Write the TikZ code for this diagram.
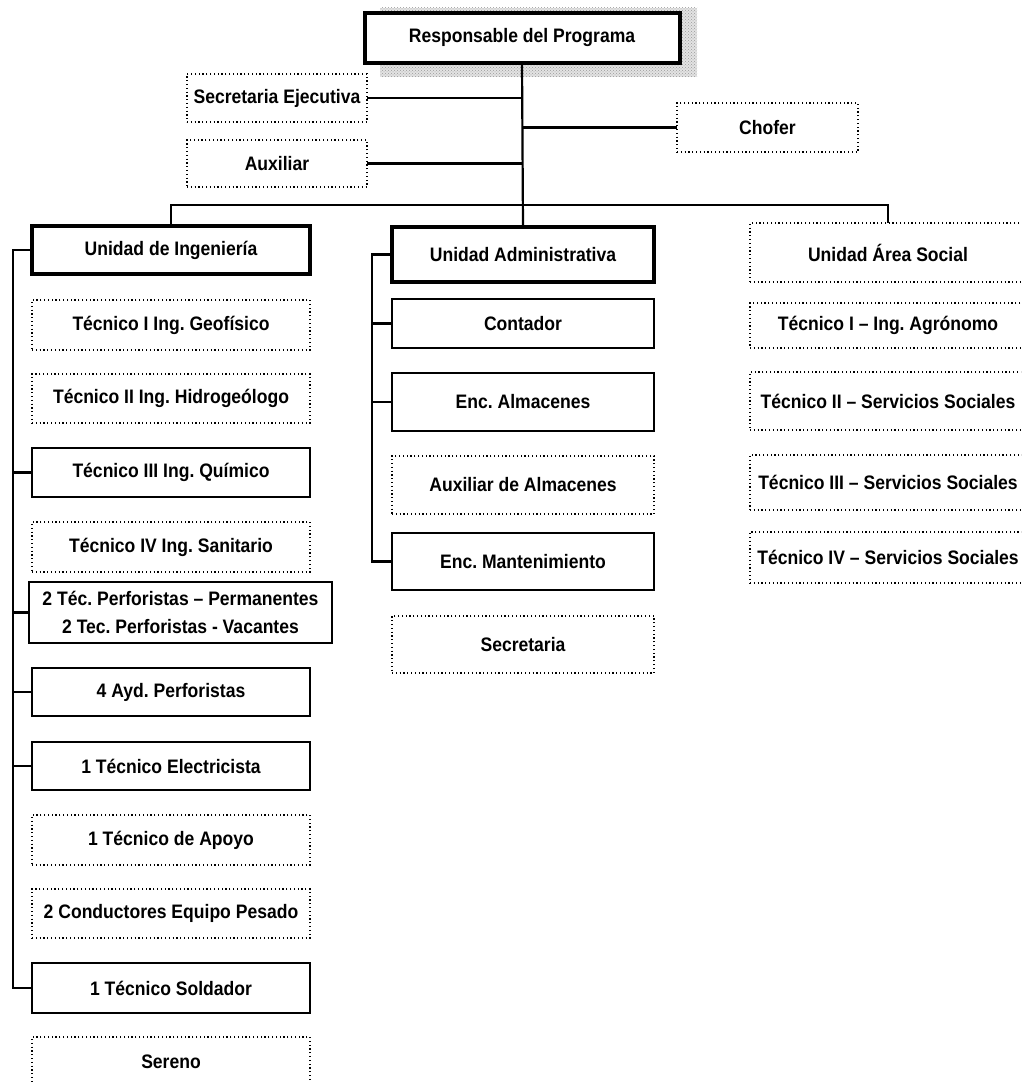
\documentclass[tikz,border=0pt]{standalone}
\usepackage{fontspec}
\setmainfont{Liberation Sans}[FakeStretch=0.9]
\usetikzlibrary{patterns}
\frenchspacing
\begin{document}
\begin{tikzpicture}[x=1pt,y=-1pt,
  every node/.style={inner sep=0pt, outer sep=0pt, align=center,
    font=\bfseries\fontsize{19.5}{28}\selectfont},
  solidbox/.style={draw, line width=2.4pt, fill=white},
  headbox/.style={draw, line width=4pt, fill=white},
  dotbox/.style={draw, line width=1.4pt, dash pattern=on 1.2pt off 2.6pt},
  link/.style={line width=2.2pt}]
\useasboundingbox (0,0) rectangle (1021,1083);
\fill[white] (0,0) rectangle (1021,1083);
\clip (0,0) rectangle (1021,1083);

% drop shadow of the top box
\fill[gray!22] (380,8) rectangle (697,77);
\fill[pattern=crosshatch dots, pattern color=gray!80] (380,8) rectangle (697,77);

% top of the chart
\node[headbox, minimum width=315pt, minimum height=50pt] (resp) at (522,38) {Responsable del Programa};
\node[dotbox, minimum width=180pt, minimum height=48pt] (secej) at (277,98) {Secretaria Ejecutiva};
\node[dotbox, minimum width=180pt, minimum height=47pt] (aux) at (277,163.5) {Auxiliar};
\node[dotbox, minimum width=181pt, minimum height=49pt] (chofer) at (767.5,127.5) {Chofer};

% engineering unit
\node[headbox, minimum width=278pt, minimum height=48pt] (ing) at (171,250) {Unidad de Ingeniería};
\node[dotbox, minimum width=278pt, minimum height=50pt] (geo) at (171,325) {Técnico I Ing. Geofísico};
\node[dotbox, minimum width=278pt, minimum height=49pt] (hidro) at (171,398.5) {Técnico II Ing. Hidrogeólogo};
\node[solidbox, minimum width=278pt, minimum height=49pt] (quim) at (171,472.5) {Técnico III Ing. Químico};
\node[dotbox, minimum width=278pt, minimum height=50pt] (sanit) at (171,547) {Técnico IV Ing. Sanitario};
\node[solidbox, minimum width=303pt, minimum height=61pt] (perf) at (180.5,612.5) {2 Téc. Perforistas – Permanentes\\2 Tec. Perforistas - Vacantes};
\node[solidbox, minimum width=278pt, minimum height=48pt] (ayd) at (171,692) {4 Ayd. Perforistas};
\node[solidbox, minimum width=278pt, minimum height=48pt] (elec) at (171,766) {1 Técnico Electricista};
\node[dotbox, minimum width=278pt, minimum height=50pt] (apoyo) at (171,840) {1 Técnico de Apoyo};
\node[dotbox, minimum width=278pt, minimum height=49pt] (cond) at (171,913.5) {2 Conductores Equipo Pesado};
\node[solidbox, minimum width=278pt, minimum height=50pt] (sold) at (171,988) {1 Técnico Soldador};
\node[dotbox, minimum width=278pt, minimum height=50pt] (sereno) at (171,1062) {Sereno};

% administrative unit
\node[headbox, minimum width=262pt, minimum height=55pt] (admin) at (523,254.5) {Unidad Administrativa};
\node[solidbox, minimum width=262pt, minimum height=49pt] (cont) at (523,323.5) {Contador};
\node[solidbox, minimum width=262pt, minimum height=58pt] (alm) at (523,402) {Enc. Almacenes};
\node[dotbox, minimum width=262pt, minimum height=58pt] (auxalm) at (523,485) {Auxiliar de Almacenes};
\node[solidbox, minimum width=262pt, minimum height=57pt] (mant) at (523,561.5) {Enc. Mantenimiento};
\node[dotbox, minimum width=262pt, minimum height=57pt] (secr) at (523,644.5) {Secretaria};

% social area unit
\node[dotbox, minimum width=276pt, minimum height=59pt] (social) at (888,252.5) {Unidad Área Social};
\node[dotbox, minimum width=276pt, minimum height=45pt] (agr) at (888,325.5) {Técnico I – Ing. Agrónomo};
\node[dotbox, minimum width=276pt, minimum height=58pt] (ss2) at (888,401) {Técnico II – Servicios Sociales};
\node[dotbox, minimum width=276pt, minimum height=55pt] (ss3) at (888,482.5) {Técnico III – Servicios Sociales};
\node[dotbox, minimum width=276pt, minimum height=51pt] (ss4) at (888,557.5) {Técnico IV – Servicios Sociales};

% reporting lines
\coordinate (bar) at (522,205);
\coordinate (lspine) at (13,250);
\coordinate (mspine) at (372,254.5);

\draw[link] (resp.south) -- (admin.north);
\draw[link] (secej.east) -- (secej.east -| resp.south);
\draw[link] (aux.east) -- (aux.east -| resp.south);
\draw[link] (chofer.west) -- (chofer.west -| resp.south);
\draw[link] (ing.north) |- (bar) -| (social.north);

\draw[link] (ing.west) -- (lspine) |- (sold.west);
\foreach \n in {quim,perf,ayd,elec}
  \draw[link] (\n.west) -- (\n.west -| lspine);

\draw[link] (admin.west) -- (mspine) |- (mant.west);
\foreach \n in {cont,alm}
  \draw[link] (\n.west) -- (\n.west -| mspine);
\end{tikzpicture}
\end{document}
